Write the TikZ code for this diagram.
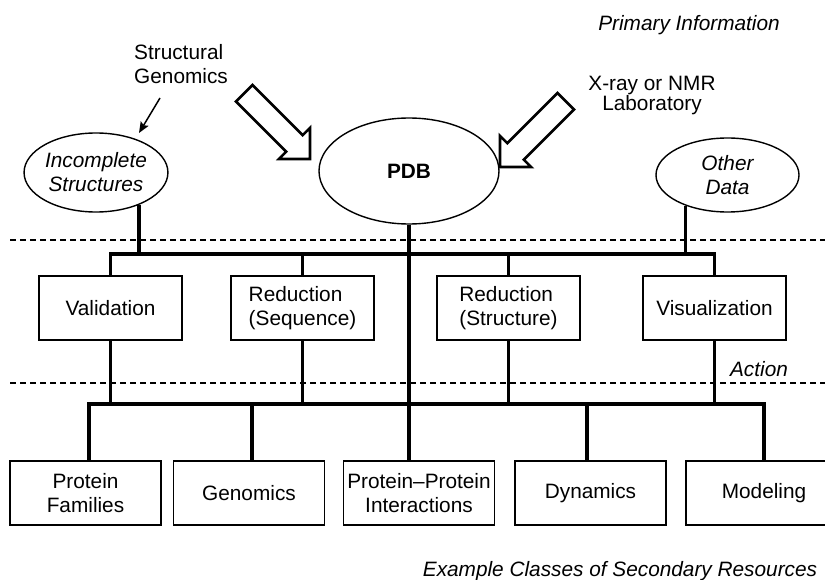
\documentclass[tikz,border=0pt]{standalone}
\usepackage{fontspec}
\setmainfont{Liberation Sans}
\usetikzlibrary{shapes.geometric,arrows.meta}
\begin{document}
\begin{tikzpicture}[x=1pt,y=-1pt,
  txt/.style={font=\fontsize{20.8}{24}\selectfont, inner sep=0pt, align=center},
  itxt/.style={txt, font=\fontsize{20.8}{24}\selectfont\itshape},
  oval/.style={draw, ellipse, line width=1.4pt, inner sep=0pt},
  box/.style={txt, draw, line width=1.5pt, minimum width=143, minimum height=64},
  lowbox/.style={txt, draw, line width=1.5pt, minimum width=151, minimum height=64},
  bus/.style={line width=3.1pt, line join=miter},
  sep/.style={dash pattern=on 6pt off 4pt, line width=1.2pt},
  hollow/.style={draw, line width=2.6pt, line join=miter, fill=white},
  pointer/.style={line width=1.5pt, -{Stealth[length=11pt, width=9pt, inset=2pt]}},
]
\useasboundingbox (0,0) rectangle (825,580);
\clip (0,0) rectangle (825,580);

% layer separators
\coordinate (s1a) at (10,240);  \coordinate (s1b) at (825,240);
\coordinate (s2a) at (10,383);  \coordinate (s2b) at (825,383);
\draw[sep] (s1a) -- (s1b);
\draw[sep] (s2a) -- (s2b);

% primary information
\node[oval, itxt, minimum width=142, minimum height=79] (inc) at (96,172.5) {Incomplete\\Structures};
\node[oval, txt, minimum width=180, minimum height=106] (pdb) at (409,171) {\textbf{PDB}};
\node[oval, itxt, minimum width=143, minimum height=74] (oth) at (727.5,175) {Other\\Data};

% actions
\node[box] (val)  at (110.5,308) {Validation};
\node[box, align=left] (rseq) at (302.5,308) {Reduction\\(Sequence)};
\node[box, align=left] (rstr) at (508.5,308) {Reduction\\(Structure)};
\node[box] (vis)  at (714.5,308) {Visualization};

% secondary resources
\node[lowbox] (pf)  at (85.5,493) {Protein\\Families};
\node[lowbox] (gen) at (249,493)  {Genomics};
\node[lowbox] (ppi) at (419,493)  {Protein\textendash Protein\\Interactions};
\node[lowbox] (dyn) at (590.5,493) {Dynamics};
\node[lowbox, minimum width=156] (mod) at (764,493) {Modeling};

% upper bus
\coordinate (ub) at (0,254);
\draw[bus] (val.north) |- (vis.north |- ub) -- (vis.north);
\draw[bus] (rseq.north) -- (rseq.north |- ub);
\draw[bus] (rstr.north) -- (rstr.north |- ub);
\draw[bus] (inc.-37) -- (inc.-37 |- ub);
\draw[bus] (oth.-144) -- (oth.-144 |- ub);
\draw[bus] (pdb.south) -- (pdb.south |- ppi.north);

% lower bus
\coordinate (lb) at (0,404);
\coordinate (k1) at (89,404);
\coordinate (k2) at (252,404);
\coordinate (k4) at (587,404);
\coordinate (k5) at (764,404);
\draw[bus] (k1 |- pf.north) -- (k1) -- (k5) -- (k5 |- mod.north);
\draw[bus] (k2) -- (k2 |- gen.north);
\draw[bus] (k4) -- (k4 |- dyn.north);
\draw[bus] (val.south) -- (val.south |- lb);
\draw[bus] (rseq.south) -- (rseq.south |- lb);
\draw[bus] (rstr.south) -- (rstr.south |- lb);
\draw[bus] (vis.south) -- (vis.south |- lb);

% labels
\node[itxt, anchor=base] (pri) at (689,31) {Primary Information};
\node[txt, align=left, anchor=west] (sg) at (134,64) {Structural\\Genomics};
\node[txt] (xr) at (652,96) {X-ray or NMR\\[-4pt]Laboratory};
\node[itxt, anchor=base] (act) at (759,376) {Action};
\node[itxt, anchor=base] (ex) at (620,576) {Example Classes of Secondary Resources};

% pointer to incomplete structures
\coordinate (pt) at (160,98);
\coordinate (ph) at (139,133);
\draw[pointer] (pt) -- (ph);

% hollow block arrows into PDB
\begin{scope}[shift={(310,159)}, rotate=-45]
  \draw[hollow] (0,0) -- (-22,22) -- (-22,11.7) -- (-93,11.7) -- (-93,-11.7) -- (-22,-11.7) -- (-22,-22) -- cycle;
\end{scope}
\begin{scope}[shift={(500,167)}, rotate=-135]
  \draw[hollow] (0,0) -- (-22,22) -- (-22,11.7) -- (-93,11.7) -- (-93,-11.7) -- (-22,-11.7) -- (-22,-22) -- cycle;
\end{scope}
\end{tikzpicture}
\end{document}
